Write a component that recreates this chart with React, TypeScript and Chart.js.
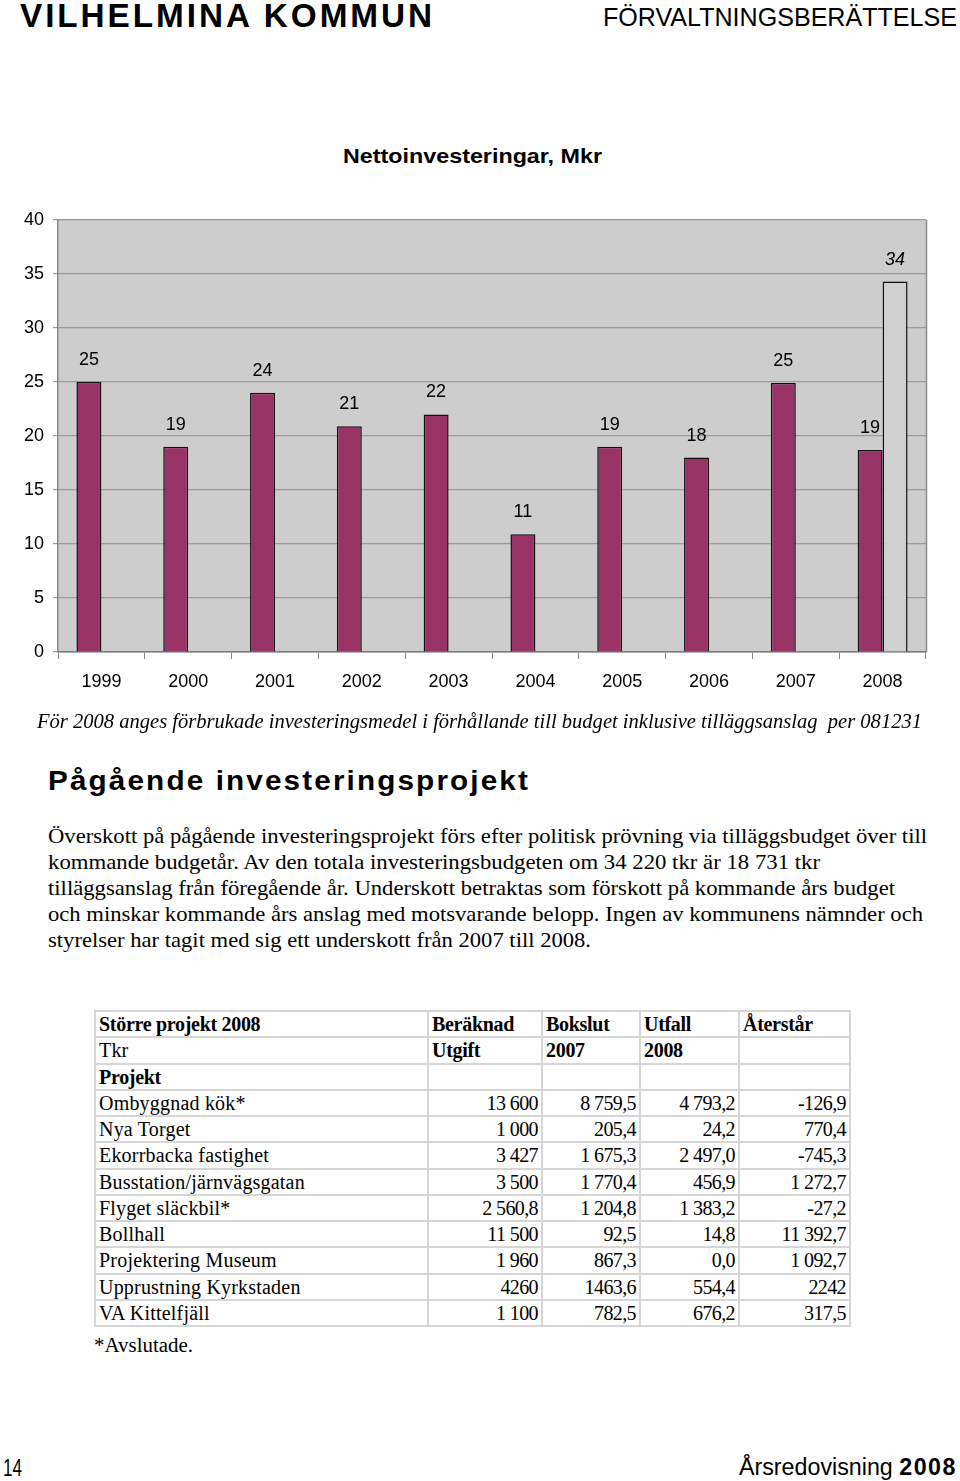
import React, { useEffect, useLayoutEffect, useRef } from 'react';
import { Chart, registerables } from 'chart.js';

Chart.register(...registerables);

// ---------- data ----------
const years = ['1999', '2000', '2001', '2002', '2003', '2004', '2005', '2006', '2007', '2008'];
const actual = [25.0, 19.0, 24.0, 20.9, 22.0, 10.9, 19.0, 18.0, 24.9, 18.7];
const actualLabels = ['25', '19', '24', '21', '22', '11', '19', '18', '25', '19'];
const budget = [null, null, null, null, null, null, null, null, null, 34.3];
const budgetLabels = ['', '', '', '', '', '', '', '', '', '34'];
const yMin = 0;
const yMax = 40;
const yStep = 5;

const tableHeader1 = ['Större projekt 2008', 'Beräknad', 'Bokslut', 'Utfall', 'Återstår'];
const tableHeader2 = ['Tkr', 'Utgift', '2007', '2008', ''];
const projects = ['Ombyggnad kök*', 'Nya Torget', 'Ekorrbacka fastighet', 'Busstation/järnvägsgatan', 'Flyget släckbil*', 'Bollhall', 'Projektering Museum', 'Upprustning Kyrkstaden', 'VA Kittelfjäll'];
const beraknad = ['13 600', '1 000', '3 427', '3 500', '2 560,8', '11 500', '1 960', '4260', '1 100'];
const bokslut2007 = ['8 759,5', '205,4', '1 675,3', '1 770,4', '1 204,8', '92,5', '867,3', '1463,6', '782,5'];
const utfall2008 = ['4 793,2', '24,2', '2 497,0', '456,9', '1 383,2', '14,8', '0,0', '554,4', '676,2'];
const aterstar = ['-126,9', '770,4', '-745,3', '1 272,7', '-27,2', '11 392,7', '1 092,7', '2242', '317,5'];

const paragraph = [
  'Överskott på pågående investeringsprojekt förs efter politisk prövning via tilläggsbudget över till',
  'kommande budgetår. Av den totala investeringsbudgeten om 34 220 tkr är 18 731 tkr',
  'tilläggsanslag från föregående år. Underskott betraktas som förskott på kommande års budget',
  'och minskar kommande års anslag med motsvarande belopp. Ingen av kommunens nämnder och',
  'styrelser har tagit med sig ett underskott från 2007 till 2008.',
];
const paragraphWidths = [879, 772, 847, 875, 543];

const SANS = '"Liberation Sans", Arial, sans-serif';
const SERIF = '"Liberation Serif", "Times New Roman", serif';

// ---------- helpers ----------
type FitProps = {
  x: number; cy: number; w: number; lh: number; style?: React.CSSProperties; children: React.ReactNode;
};
function FitText({ x, cy, w, lh, style, children }: FitProps) {
  const ref = useRef<HTMLSpanElement>(null);
  useLayoutEffect(() => {
    const el = ref.current;
    if (!el) return;
    el.style.transform = 'none';
    const actualW = el.getBoundingClientRect().width;
    if (actualW > 0) el.style.transform = `scaleX(${w / actualW})`;
  }, [w]);
  return (
    <span
      ref={ref}
      style={{
        position: 'absolute', left: x, top: cy - lh / 2, lineHeight: `${lh}px`, height: lh,
        whiteSpace: 'nowrap', transformOrigin: 'left center', color: '#000', ...style,
      }}
    >
      {children}
    </span>
  );
}

const plotBg = {
  id: 'plotBg',
  beforeDraw(chart: any) {
    const { ctx, chartArea: a } = chart;
    ctx.save();
    ctx.fillStyle = '#cdcdcd';
    ctx.fillRect(a.left, a.top, a.right - a.left, a.bottom - a.top);
    ctx.restore();
  },
  afterDraw(chart: any) {
    const { ctx, chartArea: a } = chart;
    ctx.save();
    ctx.strokeStyle = '#8a8a8a';
    ctx.lineWidth = 1.5;
    ctx.beginPath();
    ctx.moveTo(a.right + 0.5, a.top);
    ctx.lineTo(a.right + 0.5, a.bottom);
    ctx.stroke();
    ctx.restore();
  },
};

const barLabels = {
  id: 'barLabels',
  afterDatasetsDraw(chart: any) {
    const { ctx } = chart;
    const sets = [actualLabels, budgetLabels];
    ctx.save();
    ctx.fillStyle = '#000';
    ctx.textAlign = 'center';
    ctx.textBaseline = 'middle';
    chart.data.datasets.forEach((ds: any, di: number) => {
      const meta = chart.getDatasetMeta(di);
      ctx.font = di === 1 ? `italic 18px ${SANS}` : `18px ${SANS}`;
      meta.data.forEach((el: any, i: number) => {
        const v = ds.data[i];
        if (v === null || v === undefined) return;
        ctx.fillText(sets[di][i], el.x, el.y - 22);
      });
    });
    ctx.restore();
  },
};

function BarChart() {
  const ref = useRef<HTMLCanvasElement>(null);
  useEffect(() => {
    if (!ref.current) return;
    const chart = new Chart(ref.current, {
      type: 'bar',
      data: {
        labels: years,
        datasets: [
          {
            label: 'Nettoinvesteringar',
            data: actual,
            backgroundColor: '#993366',
            borderColor: '#111',
            borderWidth: 1.5,
            categoryPercentage: 0.575,
            barPercentage: 1,
          },
          {
            label: 'Budget 2008',
            data: budget as any,
            backgroundColor: '#d0d0d0',
            borderColor: '#111',
            borderWidth: 1.5,
            categoryPercentage: 0.575,
            barPercentage: 1,
          },
        ],
      },
      options: {
        responsive: false,
        animation: false,
        layout: { padding: { top: 20, right: 34, left: 0, bottom: 0 } },
        plugins: {
          legend: { display: false },
          title: { display: false },
          tooltip: { enabled: false },
        },
        scales: {
          x: {
            grid: { display: true, drawOnChartArea: false, drawTicks: true, tickLength: 7, color: '#8a8a8a', offset: true },
            border: { display: true, color: '#7a7a7a', width: 1.5 },
            ticks: { color: '#000', font: { family: SANS, size: 18 }, padding: 12, maxRotation: 0 },
            afterFit: (s: any) => { s.height = 58; },
          },
          y: {
            min: yMin,
            max: yMax,
            ticks: { stepSize: yStep, color: '#000', font: { family: SANS, size: 18 }, padding: 9 },
            grid: { color: '#9a9a9a', lineWidth: 1.2, tickLength: 5, drawTicks: true },
            border: { display: true, color: '#8a8a8a', width: 1.5 },
            afterFit: (s: any) => { s.width = 58; },
          },
        },
      },
      plugins: [plotBg, barLabels],
    });
    return () => chart.destroy();
  }, []);
  return (
    <canvas
      ref={ref}
      width={960}
      height={510}
      style={{ position: 'absolute', left: 0, top: 200, width: 960, height: 510 }}
    />
  );
}

const colEdges = [94, 427, 541, 639, 738, 849];
const tableTop = 1010;
const rowH = 26.25;

function DataTable() {
  const rows: { cells: string[]; bold: boolean[] }[] = [];
  rows.push({ cells: tableHeader1, bold: [true, true, true, true, true] });
  rows.push({ cells: tableHeader2, bold: [false, true, true, true, true] });
  rows.push({ cells: ['Projekt', '', '', '', ''], bold: [true, false, false, false, false] });
  projects.forEach((p, i) => {
    rows.push({ cells: [p, beraknad[i], bokslut2007[i], utfall2008[i], aterstar[i]], bold: [false, false, false, false, false] });
  });
  const widths = colEdges.slice(1).map((e, i) => e - colEdges[i]);
  return (
    <table
      style={{
        position: 'absolute', left: colEdges[0], top: tableTop, borderCollapse: 'collapse',
        tableLayout: 'fixed', width: colEdges[5] - colEdges[0], fontFamily: SERIF, fontSize: 20, color: '#000',
      }}
    >
      <colgroup>
        {widths.map((w, i) => <col key={i} style={{ width: w }} />)}
      </colgroup>
      <tbody>
        {rows.map((r, ri) => (
          <tr key={ri} style={{ height: rowH }}>
            {r.cells.map((c, ci) => {
              const numeric = ri >= 3 && ci > 0;
              return (
                <td
                  key={ci}
                  style={{
                    border: '2px solid #d6d6d6', padding: numeric ? '0 3px 0 2px' : '0 2px 0 3px',
                    textAlign: numeric ? 'right' : 'left', fontWeight: r.bold[ci] ? 'bold' : 'normal',
                    whiteSpace: 'nowrap', overflow: 'hidden', lineHeight: `${rowH - 2}px`, height: rowH - 2,
                    boxSizing: 'border-box', letterSpacing: numeric ? -0.6 : (ci === 0 && !r.bold[ci] ? 0.2 : -0.3),
                  }}
                >
                  {c}
                </td>
              );
            })}
          </tr>
        ))}
      </tbody>
    </table>
  );
}

export default function App() {
  return (
    <div style={{ position: 'absolute', left: 0, top: 0, width: 960, height: 1481, background: '#fff', overflow: 'hidden' }}>
      <FitText x={20} cy={15} w={415} lh={36} style={{ fontFamily: SANS, fontWeight: 'bold', fontSize: 34, letterSpacing: 3 }}>
        VILHELMINA KOMMUN
      </FitText>
      <FitText x={603} cy={17} w={354} lh={30} style={{ fontFamily: SANS, fontSize: 26 }}>
        FÖRVALTNINGSBERÄTTELSE
      </FitText>
      <FitText x={343} cy={156} w={259} lh={26} style={{ fontFamily: SANS, fontWeight: 'bold', fontSize: 21 }}>
        Nettoinvesteringar, Mkr
      </FitText>
      <BarChart />
      <FitText x={37} cy={721} w={885} lh={24} style={{ fontFamily: SERIF, fontStyle: 'italic', fontSize: 21 }}>
        För 2008 anges förbrukade investeringsmedel i förhållande till budget inklusive tilläggsanslag&nbsp; per 081231
      </FitText>
      <FitText x={48} cy={781} w={482} lh={32} style={{ fontFamily: SANS, fontWeight: 'bold', fontSize: 28, letterSpacing: 2 }}>
        Pågående investeringsprojekt
      </FitText>
      {paragraph.map((line, i) => (
        <FitText key={i} x={48} cy={836 + i * 26} w={paragraphWidths[i]} lh={26} style={{ fontFamily: SERIF, fontSize: 22 }}>
          {line}
        </FitText>
      ))}
      <DataTable />
      <FitText x={94} cy={1345} w={99} lh={24} style={{ fontFamily: SERIF, fontSize: 20 }}>
        *Avslutade.
      </FitText>
      <FitText x={3} cy={1468} w={19} lh={26} style={{ fontFamily: SANS, fontSize: 23 }}>
        14
      </FitText>
      <FitText x={739} cy={1467} w={218} lh={26} style={{ fontFamily: SANS, fontSize: 23 }}>
        Årsredovisning <span style={{ fontWeight: 'bold', letterSpacing: 1.5 }}>2008</span>
      </FitText>
    </div>
  );
}
